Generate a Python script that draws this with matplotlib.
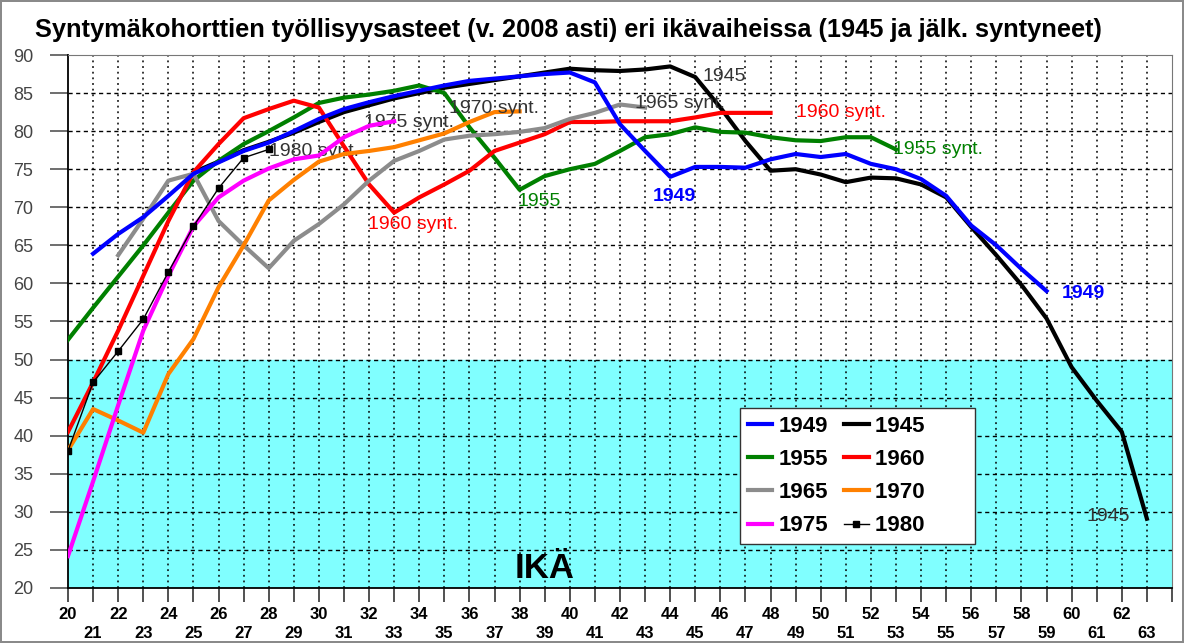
import numpy as np
import matplotlib.pyplot as plt
from matplotlib.lines import Line2D

plt.rcParams['font.family'] = ['Liberation Sans', 'DejaVu Sans']

# employment rates (%) by age for each birth cohort, up to year 2008
ages_1945 = list(range(25, 64))
rate_1945 = [74.6, 76.0, 77.5, 78.6, 79.8, 81.2, 82.5, 83.4, 84.3, 85.0,
             85.7, 86.2, 86.7, 87.2, 87.7, 88.2, 88.0, 87.9, 88.1, 88.5,
             87.1, 83.1, 78.7, 74.8, 75.0, 74.3, 73.3, 73.9, 73.8, 73.0,
             71.3, 67.4, 63.7, 59.8, 55.4, 49.0, 44.6, 40.5, 29.1]

ages_1949 = list(range(21, 60))
rate_1949 = [63.9, 66.5, 68.7, 71.5, 74.4, 75.9, 77.4, 78.5, 80.0, 81.6,
             82.9, 83.8, 84.6, 85.3, 86.0, 86.6, 86.9, 87.2, 87.5, 87.7,
             86.4, 80.9, 77.4, 74.0, 75.3, 75.3, 75.2, 76.3, 77.0, 76.6,
             77.0, 75.7, 75.0, 73.7, 71.5, 67.6, 65.0, 61.9, 59.0]

ages_1955 = list(range(20, 54))
rate_1955 = [52.6, 56.8, 60.9, 65.0, 69.3, 73.5, 76.1, 78.3, 80.0, 81.8,
             83.7, 84.4, 84.8, 85.3, 86.0, 85.0, 80.5, 76.5, 72.3, 74.1,
             75.0, 75.7, 77.4, 79.2, 79.6, 80.5, 79.9, 79.8, 79.2, 78.8,
             78.7, 79.2, 79.2, 77.6]

ages_1960 = list(range(20, 49))
rate_1960 = [40.5, 47.0, 53.8, 61.0, 68.2, 74.6, 78.3, 81.7, 82.9, 84.0,
             83.1, 78.0, 73.0, 69.3, 71.3, 73.0, 74.8, 77.4, 78.5, 79.6,
             81.2, 81.2, 81.3, 81.3, 81.3, 81.8, 82.4, 82.4, 82.4]

ages_1965 = list(range(22, 44))
rate_1965 = [63.7, 68.5, 73.5, 74.4, 68.2, 65.0, 62.0, 65.6, 67.8, 70.4,
             73.5, 76.1, 77.4, 78.9, 79.4, 79.6, 79.9, 80.4, 81.6, 82.4,
             83.5, 83.1]

ages_1970 = list(range(20, 39))
rate_1970 = [38.1, 43.5, 42.0, 40.4, 48.1, 52.7, 59.5, 65.0, 70.9, 73.6,
             76.0, 77.0, 77.4, 77.9, 78.8, 79.7, 81.2, 82.5, 82.6]

ages_1975 = list(range(20, 34))
rate_1975 = [24.2, 34.0, 44.0, 53.8, 61.0, 67.5, 71.3, 73.5, 75.1, 76.3,
             76.8, 79.2, 80.7, 81.3]

ages_1980 = list(range(20, 29))
rate_1980 = [38.0, 47.0, 51.1, 55.3, 61.5, 67.5, 72.5, 76.5, 77.6]

tick_ages = list(range(20, 65))
y_ticks = list(range(20, 95, 5))

fig = plt.figure(figsize=(11.84, 6.43), dpi=100)
fig.patch.set_edgecolor('#8a8a8a')
fig.patch.set_linewidth(1.5)
ax = fig.add_axes([68 / 1184, 55 / 643, 1104 / 1184, 533 / 643])

ax.set_xlim(20, 64)
ax.set_ylim(20, 90)
ax.axhspan(20, 50, color='#80ffff', zorder=0)

# grid: dotted verticals each year, dashed horizontals each 5 %
for a in tick_ages[1:-1]:
    ax.axvline(a, color='black', ls=(0, (1.2, 2.5)), lw=1.1, zorder=1)
for y in y_ticks[1:-1]:
    ax.axhline(y, color='black', ls=(0, (3, 2.5)), lw=1.0, zorder=1)

lw = 3.0
ax.plot(ages_1945, rate_1945, color='black', lw=lw, zorder=3)
ax.plot(ages_1949, rate_1949, color='#0000ff', lw=lw, zorder=4)
ax.plot(ages_1955, rate_1955, color='#008000', lw=lw, zorder=3)
ax.plot(ages_1960, rate_1960, color='#ff0000', lw=lw, zorder=3)
ax.plot(ages_1965, rate_1965, color='#8c8c8c', lw=lw, zorder=3)
ax.plot(ages_1970, rate_1970, color='#ff8000', lw=lw, zorder=3)
ax.plot(ages_1975, rate_1975, color='#ff00ff', lw=lw, zorder=3)
ax.plot(ages_1980, rate_1980, color='black', lw=1.0, marker='s', ms=4.5, zorder=5)

# labels on the curves
tc = '#333333'
fs = 14
ax.text(45.3, 87.2, '1945', color=tc, fontsize=fs, va='center', zorder=6)
ax.text(35.2, 83.0, '1970 synt.', color=tc, fontsize=fs, va='center', zorder=6)
ax.text(42.6, 83.6, '1965 synt.', color=tc, fontsize=fs, va='center', zorder=6)
ax.text(49.0, 82.4, '1960 synt.', color='#ff0000', fontsize=fs, va='center', zorder=6)
ax.text(31.8, 81.2, '1975 synt.', color=tc, fontsize=fs, va='center', zorder=2)
ax.text(28.0, 77.3, '1980 synt.', color=tc, fontsize=fs, va='center', zorder=2)
ax.text(52.9, 77.6, '1955 synt.', color='#008000', fontsize=fs, va='center', zorder=6)
ax.text(31.95, 67.7, '1960 synt.', color='#ff0000', fontsize=fs, va='center', zorder=6)
ax.text(37.9, 70.7, '1955', color='#008000', fontsize=fs, va='center', zorder=6)
ax.text(43.3, 71.4, '1949', color='#0000ff', fontsize=fs, fontweight='bold', va='center', zorder=6)
ax.text(59.6, 58.7, '1949', color='#0000ff', fontsize=fs, fontweight='bold', va='center', zorder=6)
ax.text(60.6, 29.4, '1945', color=tc, fontsize=fs, va='center', zorder=6)
ax.text(39.0, 22.6, 'IKÄ', fontsize=25, fontweight='bold', ha='center', va='center', zorder=6)

# axes styling
ax.set_yticks(y_ticks)
ax.set_yticklabels([str(y) for y in y_ticks], color='#444444', fontsize=13)
ax.tick_params(axis='y', length=13, width=1.2, color='#555555', pad=12)
ax.set_xticks(tick_ages)
xlabels = []
for a in tick_ages:
    if a == 64:
        xlabels.append('')
    elif a % 2 == 0:
        xlabels.append(str(a))
    else:
        xlabels.append('\n' + str(a))
ax.set_xticklabels(xlabels, fontsize=12, fontweight='bold', linespacing=1.3)
ax.tick_params(axis='x', length=10, width=1.2, color='#333333', pad=4)
ax.spines['left'].set_color('black')
ax.spines['bottom'].set_color('black')
ax.spines['left'].set_linewidth(1.3)
ax.spines['bottom'].set_linewidth(1.3)
ax.spines['top'].set_color('#777777')
ax.spines['right'].set_color('#777777')

# legend in two columns
def h(color, thin=False):
    if thin:
        return Line2D([], [], color='black', lw=1.0, marker='s', ms=4.5)
    return Line2D([], [], color=color, lw=3.0)

handles = [h('#0000ff'), h('#008000'), h('#8c8c8c'), h('#ff00ff'),
           h('black'), h('#ff0000'), h('#ff8000'), h('black', thin=True)]
labels = ['1949', '1955', '1965', '1975',
          '1945       ', '1960       ', '1970       ', '1980       ']
leg = ax.legend(handles, labels, ncol=2, loc='upper left',
                bbox_to_anchor=(740 / 1184, 1 - 408 / 643),
                bbox_transform=fig.transFigure, borderaxespad=0,
                prop={'weight': 'bold', 'size': 16},
                handlelength=1.1, handletextpad=0.3, columnspacing=0.7,
                labelspacing=0.55, borderpad=0.35, fancybox=False,
                framealpha=1, edgecolor='#333333')
leg.get_frame().set_linewidth(1.0)
leg.set_zorder(7)

fig.text(35 / 1184, 1 - 30 / 643,
         'Syntymäkohorttien työllisyysasteet (v. 2008 asti) eri ikävaiheissa (1945 ja jälk. syntyneet)',
         fontsize=18.3, fontweight='bold', va='center', ha='left')

fig.savefig('out.png', dpi=100, edgecolor=fig.get_edgecolor())
